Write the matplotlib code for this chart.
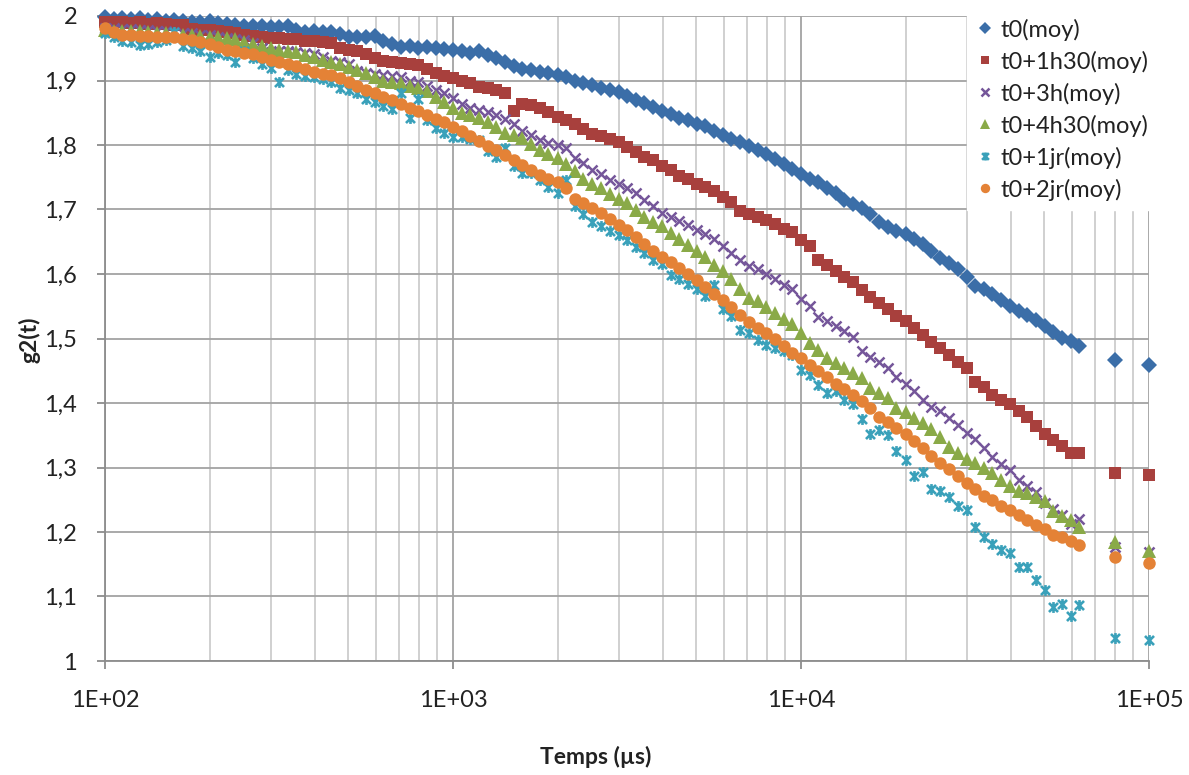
import numpy as np
import matplotlib.pyplot as plt
from matplotlib.path import Path
from matplotlib.ticker import LogLocator, FuncFormatter, MultipleLocator, NullFormatter

# ============================================================
# g2(t) - fonctions d'autocorrelation (moyennes)
# ============================================================

temps_us = [
    100, 106, 112, 119, 126, 133, 141, 150, 158, 168,
    178, 188, 200, 211, 224, 237, 251, 266, 282, 299,
    316, 335, 355, 376, 398, 422, 447, 473, 501, 531,
    562, 596, 631, 668, 708, 750, 794, 841, 891, 944,
    1000, 1060, 1120, 1190, 1260, 1330, 1410, 1500, 1580, 1680,
    1780, 1880, 2000, 2110, 2240, 2370, 2510, 2660, 2820, 2990,
    3160, 3350, 3550, 3760, 3980, 4220, 4470, 4730, 5010, 5310,
    5620, 5960, 6310, 6680, 7080, 7500, 7940, 8410, 8910, 9440,
    10000, 10600, 11200, 11900, 12600, 13300, 14100, 15000, 15800, 16800,
    17800, 18800, 20000, 21100, 22400, 23700, 25100, 26600, 28200, 29900,
    31600, 33500, 35500, 37600, 39800, 42200, 44700, 47300, 50100, 53100,
    56200, 59600, 63100, 80000, 100000,
]

g2_t0 = [
    1.998, 1.996, 1.997, 1.995, 1.997, 1.994, 1.995, 1.993, 1.994, 1.992,
    1.991, 1.990, 1.993, 1.989, 1.987, 1.986, 1.985, 1.984, 1.985, 1.983,
    1.983, 1.984, 1.978, 1.975, 1.976, 1.975, 1.975, 1.972, 1.968, 1.967,
    1.968, 1.969, 1.962, 1.956, 1.952, 1.953, 1.951, 1.952, 1.950, 1.949,
    1.947, 1.946, 1.943, 1.945, 1.940, 1.935, 1.928, 1.922, 1.918, 1.916,
    1.913, 1.911, 1.909, 1.905, 1.900, 1.896, 1.893, 1.889, 1.886, 1.882,
    1.876, 1.870, 1.865, 1.859, 1.853, 1.848, 1.842, 1.838, 1.833, 1.829,
    1.822, 1.815, 1.810, 1.804, 1.799, 1.792, 1.786, 1.779, 1.771, 1.763,
    1.755, 1.748, 1.742, 1.733, 1.725, 1.715, 1.708, 1.702, 1.693, 1.681,
    1.673, 1.667, 1.662, 1.655, 1.646, 1.635, 1.625, 1.617, 1.608, 1.595,
    1.582, 1.577, 1.569, 1.559, 1.550, 1.543, 1.536, 1.528, 1.519, 1.510,
    1.501, 1.496, 1.489, 1.467, 1.459,
]

g2_1h30 = [
    1.991, 1.990, 1.991, 1.989, 1.990, 1.988, 1.989, 1.987, 1.986, 1.986,
    1.980, 1.978, 1.979, 1.977, 1.975, 1.973, 1.971, 1.969, 1.967, 1.966,
    1.966, 1.965, 1.964, 1.962, 1.961, 1.960, 1.958, 1.950, 1.947, 1.945,
    1.941, 1.935, 1.931, 1.928, 1.927, 1.926, 1.924, 1.918, 1.912, 1.907,
    1.904, 1.900, 1.896, 1.890, 1.889, 1.885, 1.880, 1.853, 1.864, 1.862,
    1.858, 1.851, 1.844, 1.839, 1.832, 1.825, 1.817, 1.814, 1.810, 1.804,
    1.797, 1.789, 1.781, 1.776, 1.768, 1.762, 1.752, 1.748, 1.740, 1.735,
    1.729, 1.720, 1.712, 1.698, 1.693, 1.689, 1.683, 1.677, 1.670, 1.665,
    1.652, 1.643, 1.622, 1.614, 1.604, 1.596, 1.588, 1.575, 1.564, 1.555,
    1.545, 1.535, 1.527, 1.517, 1.506, 1.495, 1.486, 1.475, 1.464, 1.455,
    1.433, 1.425, 1.413, 1.405, 1.398, 1.388, 1.378, 1.365, 1.352, 1.343,
    1.333, 1.322, 1.322, 1.291, 1.288,
]

g2_3h = [
    1.982, 1.981, 1.980, 1.980, 1.979, 1.978, 1.977, 1.976, 1.975, 1.974,
    1.973, 1.971, 1.970, 1.968, 1.966, 1.964, 1.963, 1.958, 1.950, 1.944,
    1.945, 1.946, 1.944, 1.943, 1.941, 1.936, 1.931, 1.929, 1.925, 1.914,
    1.911, 1.910, 1.908, 1.907, 1.905, 1.900, 1.897, 1.891, 1.886, 1.880,
    1.873, 1.864, 1.857, 1.855, 1.851, 1.846, 1.840, 1.833, 1.822, 1.816,
    1.808, 1.803, 1.800, 1.795, 1.780, 1.772, 1.761, 1.755, 1.746, 1.740,
    1.734, 1.726, 1.715, 1.705, 1.695, 1.689, 1.682, 1.676, 1.668, 1.662,
    1.655, 1.643, 1.632, 1.622, 1.613, 1.607, 1.600, 1.592, 1.583, 1.576,
    1.562, 1.550, 1.534, 1.527, 1.519, 1.511, 1.502, 1.480, 1.471, 1.464,
    1.455, 1.441, 1.430, 1.418, 1.405, 1.394, 1.387, 1.377, 1.366, 1.353,
    1.344, 1.330, 1.316, 1.305, 1.296, 1.280, 1.271, 1.262, 1.245, 1.236,
    1.227, 1.213, 1.220, 1.177, 1.169,
]

g2_4h30 = [
    1.978, 1.977, 1.977, 1.976, 1.976, 1.975, 1.974, 1.973, 1.972, 1.971,
    1.970, 1.969, 1.968, 1.967, 1.966, 1.964, 1.960, 1.957, 1.954, 1.950,
    1.947, 1.946, 1.944, 1.940, 1.936, 1.932, 1.928, 1.925, 1.921, 1.917,
    1.912, 1.905, 1.900, 1.898, 1.896, 1.892, 1.889, 1.883, 1.874, 1.866,
    1.857, 1.849, 1.846, 1.842, 1.835, 1.828, 1.819, 1.815, 1.811, 1.801,
    1.792, 1.786, 1.780, 1.770, 1.759, 1.747, 1.739, 1.733, 1.724, 1.717,
    1.710, 1.699, 1.689, 1.681, 1.674, 1.664, 1.655, 1.645, 1.636, 1.626,
    1.614, 1.604, 1.593, 1.576, 1.563, 1.558, 1.549, 1.539, 1.530, 1.522,
    1.509, 1.493, 1.482, 1.470, 1.462, 1.455, 1.447, 1.438, 1.423, 1.416,
    1.408, 1.393, 1.386, 1.377, 1.369, 1.359, 1.347, 1.332, 1.322, 1.313,
    1.307, 1.300, 1.291, 1.280, 1.272, 1.264, 1.260, 1.255, 1.248, 1.232,
    1.225, 1.218, 1.207, 1.185, 1.170,
]

g2_1jr = [
    1.974, 1.968, 1.962, 1.960, 1.955, 1.957, 1.960, 1.963, 1.975, 1.953,
    1.951, 1.946, 1.937, 1.943, 1.940, 1.929, 1.945, 1.935, 1.925, 1.919,
    1.897, 1.916, 1.910, 1.907, 1.906, 1.903, 1.897, 1.889, 1.885, 1.881,
    1.872, 1.866, 1.861, 1.856, 1.881, 1.842, 1.872, 1.839, 1.826, 1.818,
    1.812, 1.812, 1.810, 1.808, 1.790, 1.782, 1.796, 1.768, 1.757, 1.756,
    1.746, 1.735, 1.725, 1.745, 1.706, 1.693, 1.680, 1.675, 1.667, 1.661,
    1.652, 1.642, 1.632, 1.622, 1.615, 1.598, 1.592, 1.584, 1.577, 1.566,
    1.583, 1.546, 1.535, 1.513, 1.508, 1.498, 1.490, 1.486, 1.480, 1.474,
    1.451, 1.444, 1.428, 1.416, 1.419, 1.404, 1.398, 1.375, 1.352, 1.358,
    1.350, 1.326, 1.311, 1.287, 1.293, 1.267, 1.264, 1.254, 1.240, 1.234,
    1.208, 1.192, 1.181, 1.172, 1.167, 1.146, 1.145, 1.125, 1.110, 1.084,
    1.089, 1.070, 1.087, 1.036, 1.033,
]

g2_2jr = [
    1.981, 1.975, 1.971, 1.970, 1.969, 1.969, 1.968, 1.968, 1.967, 1.965,
    1.963, 1.960, 1.956, 1.952, 1.948, 1.945, 1.943, 1.941, 1.937, 1.932,
    1.929, 1.925, 1.922, 1.918, 1.913, 1.910, 1.909, 1.904, 1.897, 1.891,
    1.886, 1.880, 1.875, 1.870, 1.864, 1.858, 1.852, 1.847, 1.841, 1.836,
    1.828, 1.821, 1.814, 1.806, 1.799, 1.792, 1.785, 1.777, 1.769, 1.761,
    1.753, 1.748, 1.743, 1.734, 1.717, 1.710, 1.703, 1.695, 1.686, 1.676,
    1.668, 1.658, 1.646, 1.636, 1.627, 1.619, 1.610, 1.600, 1.590, 1.580,
    1.569, 1.559, 1.549, 1.537, 1.526, 1.517, 1.509, 1.499, 1.488, 1.478,
    1.469, 1.459, 1.450, 1.440, 1.430, 1.421, 1.412, 1.403, 1.392, 1.379,
    1.370, 1.361, 1.352, 1.341, 1.330, 1.318, 1.307, 1.298, 1.287, 1.276,
    1.266, 1.256, 1.249, 1.241, 1.234, 1.227, 1.219, 1.211, 1.204, 1.195,
    1.192, 1.186, 1.180, 1.161, 1.152,
]

# marqueur "etoile" style Excel : x + trait vertical
etoile = Path(
    [(-1, -1), (1, 1), (-1, 1), (1, -1), (0, -1.2), (0, 1.2)],
    [Path.MOVETO, Path.LINETO, Path.MOVETO, Path.LINETO, Path.MOVETO, Path.LINETO],
)

series = [
    ("t0(moy)", g2_t0, "#3B6EA8", "D", 8.6, 0),
    ("t0+1h30(moy)", g2_1h30, "#A8403D", "s", 8.6, 0),
    ("t0+3h(moy)", g2_3h, "#75569A", "x", 7.8, 1.8),
    ("t0+4h30(moy)", g2_4h30, "#8AAA48", "^", 9.4, 0),
    ("t0+1jr(moy)", g2_1jr, "#3AA1BA", etoile, 7.8, 1.9),
    ("t0+2jr(moy)", g2_2jr, "#E48236", "o", 9.0, 0),
]

plt.rcParams["font.family"] = ["Lato", "DejaVu Sans"]

fig = plt.figure(figsize=(11.89, 7.75), dpi=100)
ax = fig.add_axes([105 / 1189, 1 - 661 / 775, (1149 - 105) / 1189, (661 - 16) / 775])

for nom, valeurs, couleur, marqueur, taille, ep in series:
    ax.plot(temps_us, valeurs, linestyle="none", marker=marqueur, markersize=taille,
            color=couleur, markerfacecolor=couleur, markeredgecolor=couleur,
            markeredgewidth=ep, label=nom, clip_on=False, zorder=3)

ax.set_xscale("log")
ax.set_xlim(1e2, 1e5)
ax.set_ylim(1, 2)

ax.xaxis.set_major_locator(LogLocator(base=10, numticks=10))
ax.xaxis.set_minor_locator(LogLocator(base=10, subs=np.arange(2, 10), numticks=20))
ax.xaxis.set_minor_formatter(NullFormatter())
ax.xaxis.set_major_formatter(FuncFormatter(lambda v, p: f"{v:.0E}"))
ax.yaxis.set_major_locator(MultipleLocator(0.1))


def fmt_y(v, p):
    s = f"{v:.1f}".replace(".", ",")
    return s[:-2] if s.endswith(",0") else s


ax.yaxis.set_major_formatter(FuncFormatter(fmt_y))

ax.grid(True, which="major", color="#A3A3A3", linewidth=1.3, zorder=0)
ax.grid(True, which="minor", axis="x", color="#CDCDCD", linewidth=1.3, zorder=0)
ax.set_axisbelow(True)

for cote in ["top", "right"]:
    ax.spines[cote].set_visible(False)
for cote in ["left", "bottom"]:
    ax.spines[cote].set_color("#8C8C8C")
    ax.spines[cote].set_linewidth(1.3)

ax.tick_params(axis="both", which="major", direction="out", length=6, width=1.3,
               color="#8C8C8C", labelsize=17, labelcolor="#222222")
ax.tick_params(axis="x", which="major", pad=15)
ax.tick_params(axis="y", which="major", pad=14)
ax.tick_params(axis="x", which="minor", length=0)

fig.text(596 / 1189, 1 - 757 / 775, "Temps (µs)", ha="center", va="center",
         fontsize=16.5, fontweight="bold", color="#222222")
fig.text(29 / 1189, 1 - 340 / 775, "g2(t)", ha="center", va="center", rotation=90,
         fontsize=16.5, fontweight="bold", color="#222222")

leg = ax.legend(loc="upper left", bbox_to_anchor=(967 / 1189, 1 - 9 / 775), bbox_transform=fig.transFigure,
                frameon=True, fancybox=False, facecolor="white", edgecolor="white", framealpha=1,
                fontsize=17, handlelength=0.7, handletextpad=0.3, labelspacing=0.42,
                borderpad=0.4, borderaxespad=0, markerscale=0.75)
for t in leg.get_texts():
    t.set_color("#222222")
leg.set_zorder(5)

fig.savefig("out.png", dpi=100)
